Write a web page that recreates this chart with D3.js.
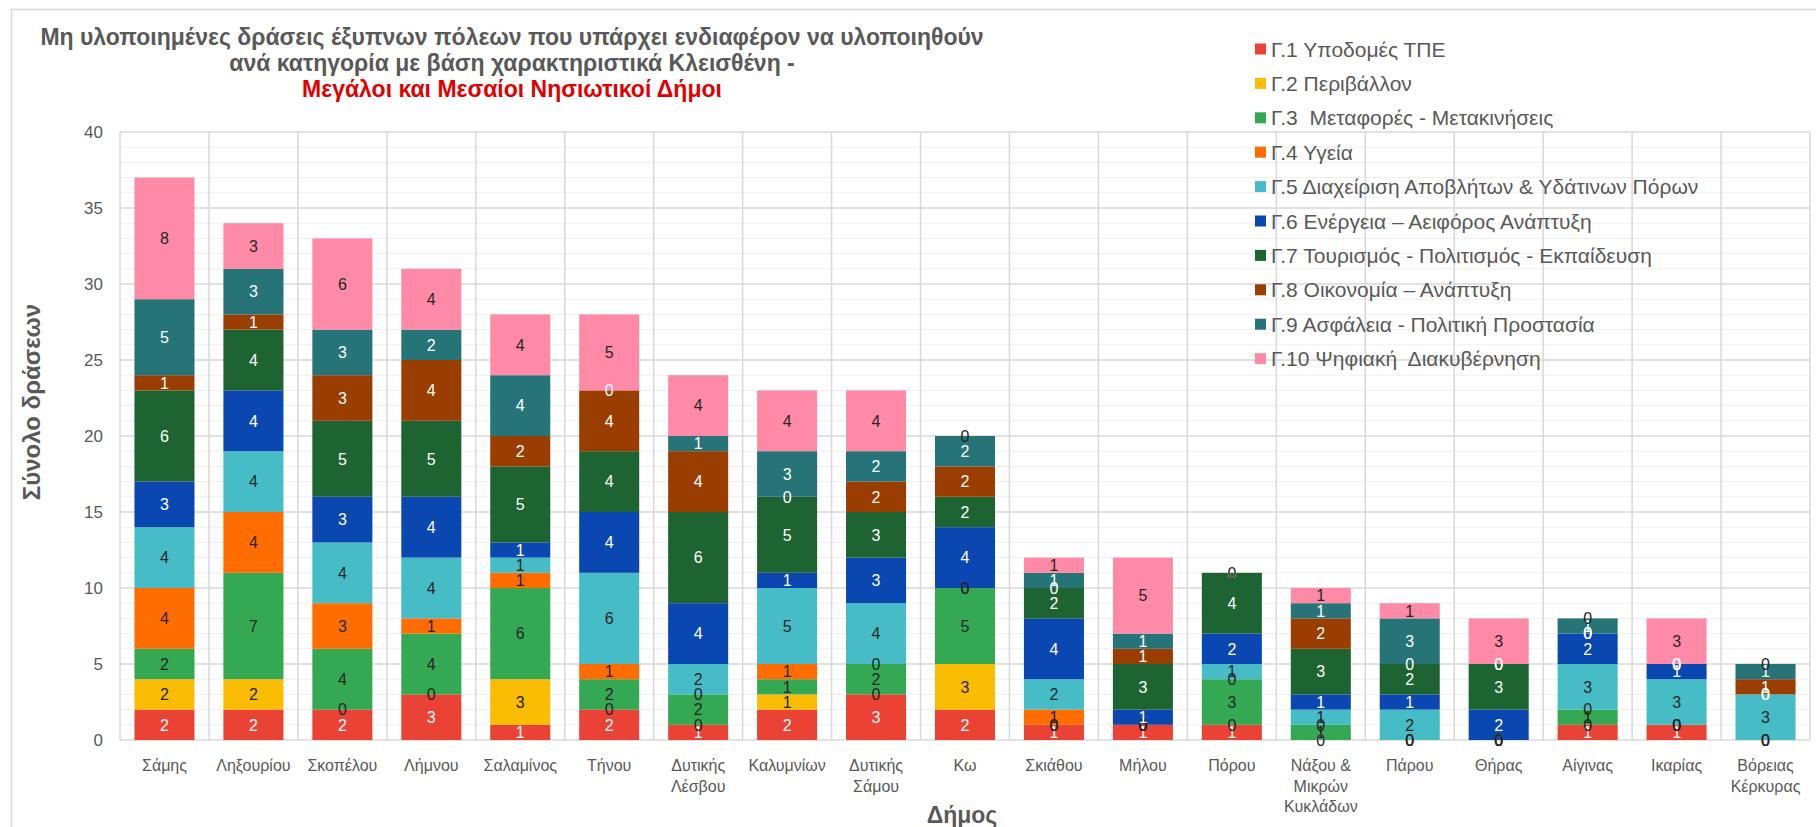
<!DOCTYPE html>
<html lang="el">
<head>
<meta charset="utf-8">
<title>Μη υλοποιημένες δράσεις έξυπνων πόλεων</title>
<script src="https://cdn.jsdelivr.net/npm/d3@7"></script>
<style>
  html, body { margin: 0; padding: 0; background: #ffffff; }
  svg { display: block; font-family: "Liberation Sans", Arial, sans-serif; }
</style>
</head>
<body>
<svg id="chart" width="1816" height="827"></svg>
<script>
// Municipalities (x categories); "\n" marks a line break in the tick label
const municipalities = [
  "Σάμης", "Ληξουρίου", "Σκοπέλου", "Λήμνου", "Σαλαμίνος", "Τήνου",
  "Δυτικής\nΛέσβου", "Καλυμνίων", "Δυτικής\nΣάμου", "Κω", "Σκιάθου",
  "Μήλου", "Πόρου", "Νάξου &\nΜικρών\nΚυκλάδων", "Πάρου", "Θήρας",
  "Αίγινας", "Ικαρίας", "Βόρειας\nΚέρκυρας"
];

// Action categories (stack order, bottom to top)
const categories = [
  "Γ.1 Υποδομές ΤΠΕ",
  "Γ.2 Περιβάλλον",
  "Γ.3  Μεταφορές - Μετακινήσεις",
  "Γ.4 Υγεία",
  "Γ.5 Διαχείριση Αποβλήτων & Υδάτινων Πόρων",
  "Γ.6 Ενέργεια – Αειφόρος Ανάπτυξη",
  "Γ.7 Τουρισμός - Πολιτισμός - Εκπαίδευση",
  "Γ.8 Οικονομία – Ανάπτυξη",
  "Γ.9 Ασφάλεια - Πολιτική Προστασία",
  "Γ.10 Ψηφιακή  Διακυβέρνηση"
];

// Number of actions per category, one value per municipality
const g1  = [2, 2, 2, 3, 1, 2, 1, 2, 3, 2, 1, 1, 1, 0, 0, 0, 1, 1, 0];
const g2  = [2, 2, 0, 0, 3, 0, 0, 1, 0, 3, 0, 0, 0, 0, 0, 0, 0, 0, 0];
const g3  = [2, 7, 4, 4, 6, 2, 2, 1, 2, 5, 0, 0, 3, 1, 0, 0, 1, 0, 0];
const g4  = [4, 4, 3, 1, 1, 1, 0, 1, 0, 0, 1, 0, 0, 0, 0, 0, 0, 0, 0];
const g5  = [4, 4, 4, 4, 1, 6, 2, 5, 4, 0, 2, 0, 1, 1, 2, 0, 3, 3, 3];
const g6  = [3, 4, 3, 4, 1, 4, 4, 1, 3, 4, 4, 1, 2, 1, 1, 2, 2, 1, 0];
const g7  = [6, 4, 5, 5, 5, 4, 6, 5, 3, 2, 2, 3, 4, 3, 2, 3, 0, 0, 0];
const g8  = [1, 1, 3, 4, 2, 4, 4, 0, 2, 2, 0, 1, 0, 2, 0, 0, 0, 0, 1];
const g9  = [5, 3, 3, 2, 4, 0, 1, 3, 2, 2, 1, 1, 0, 1, 3, 0, 1, 0, 1];
const g10 = [8, 3, 6, 4, 4, 5, 4, 4, 4, 0, 1, 5, 0, 1, 1, 3, 0, 3, 0];

const seriesValues = [g1, g2, g3, g4, g5, g6, g7, g8, g9, g10];

const seriesColors = [
  "#ea4335", "#fbbc04", "#34a853", "#ff6d01", "#46bdc6",
  "#0b47b1", "#1e6432", "#993d00", "#267378", "#ff8aa7"
];
const labelColors = [
  "#ffffff", "#262626", "#262626", "#262626", "#262626",
  "#ffffff", "#ffffff", "#ffffff", "#ffffff", "#262626"
];

const yTicks = [0, 5, 10, 15, 20, 25, 30, 35, 40];

const titleLines = [
  "Μη υλοποιημένες δράσεις έξυπνων πόλεων που υπάρχει ενδιαφέρον να υλοποιηθούν",
  "ανά κατηγορία με βάση χαρακτηριστικά Κλεισθένη -",
  "Μεγάλοι και Μεσαίοι Νησιωτικοί Δήμοι"
];

// ---- layout ----
const svg = d3.select("#chart");
const plot = { left: 120, right: 1810, top: 132, bottom: 740 };
const textGray = "#595959";

// Table of rows for the stack layout
const rows = municipalities.map((m, i) => {
  const r = { name: m };
  categories.forEach((c, k) => { r[c] = seriesValues[k][i]; });
  return r;
});

const x = d3.scaleBand()
  .domain(municipalities)
  .range([plot.left, plot.right])
  .paddingInner(0.325)
  .paddingOuter(0.1625);

const y = d3.scaleLinear()
  .domain([0, 40])
  .range([plot.bottom, plot.top]);

const stacked = d3.stack().keys(categories)(rows);

// chart border (left and top edges visible)
svg.append("rect")
  .attr("x", 11.5).attr("y", 9.5)
  .attr("width", 1830).attr("height", 840)
  .attr("fill", "none")
  .attr("stroke", "#d9d9d9")
  .attr("stroke-width", 1.5);

// ---- gridlines ----
const grid = svg.append("g");
grid.selectAll("line.minor")
  .data(d3.range(1, 40).filter(v => v % 5 !== 0))
  .join("line")
  .attr("x1", plot.left).attr("x2", plot.right)
  .attr("y1", d => y(d)).attr("y2", d => y(d))
  .attr("stroke", "#efefef").attr("stroke-width", 1);

grid.selectAll("line.major")
  .data(yTicks)
  .join("line")
  .attr("x1", plot.left).attr("x2", plot.right)
  .attr("y1", d => y(d)).attr("y2", d => y(d))
  .attr("stroke", "#d9d9d9").attr("stroke-width", 1.5);

const step = x.step();
grid.selectAll("line.vert")
  .data(d3.range(municipalities.length + 1))
  .join("line")
  .attr("x1", i => plot.left + i * step).attr("x2", i => plot.left + i * step)
  .attr("y1", plot.top).attr("y2", plot.bottom)
  .attr("stroke", "#d9d9d9").attr("stroke-width", 1.5);

// ---- bars ----
const layers = svg.append("g").selectAll("g")
  .data(stacked)
  .join("g")
  .attr("fill", (d, i) => seriesColors[i]);

layers.selectAll("rect")
  .data(d => d)
  .join("rect")
  .attr("x", d => x(d.data.name))
  .attr("width", x.bandwidth())
  .attr("y", d => y(d[1]))
  .attr("height", d => y(d[0]) - y(d[1]));

// ---- data labels ----
const labelLayers = svg.append("g").selectAll("g")
  .data(stacked)
  .join("g")
  .attr("fill", (d, i) => labelColors[i]);

labelLayers.selectAll("text")
  .data(d => d)
  .join("text")
  .attr("x", d => x(d.data.name) + x.bandwidth() / 2)
  .attr("y", d => (y(d[0]) + y(d[1])) / 2)
  .attr("dy", "0.36em")
  .attr("text-anchor", "middle")
  .attr("font-size", 16)
  .text(d => d[1] - d[0]);

// ---- axes ----
const yAxis = svg.append("g")
  .attr("transform", `translate(${plot.left},0)`)
  .call(d3.axisLeft(y).tickValues(yTicks).tickSize(0).tickPadding(17));
yAxis.select(".domain").remove();
yAxis.selectAll("text")
  .attr("font-size", 17)
  .attr("font-family", "Liberation Sans, Arial, sans-serif")
  .attr("fill", textGray);

const xAxis = svg.append("g")
  .attr("transform", `translate(0,${plot.bottom})`)
  .call(d3.axisBottom(x).tickSize(0).tickFormat(""));
xAxis.select(".domain").remove();
xAxis.selectAll(".tick text").remove();
xAxis.selectAll(".tick").each(function (d) {
  const t = d3.select(this).append("text")
    .attr("y", 31)
    .attr("text-anchor", "middle")
    .attr("font-size", 16)
    .attr("font-family", "Liberation Sans, Arial, sans-serif")
    .attr("fill", textGray);
  d.split("\n").forEach((line, i) => {
    t.append("tspan").attr("x", 0).attr("dy", i === 0 ? 0 : 20.6).text(line);
  });
});

// axis titles
svg.append("text")
  .attr("transform", "translate(40,402) rotate(-90)")
  .attr("text-anchor", "middle")
  .attr("font-size", 24)
  .attr("font-weight", "bold")
  .attr("fill", textGray)
  .text("Σύνολο δράσεων");

svg.append("text")
  .attr("x", 962).attr("y", 823)
  .attr("text-anchor", "middle")
  .attr("font-size", 23)
  .attr("font-weight", "bold")
  .attr("fill", textGray)
  .text("Δήμος");

// ---- title ----
const title = svg.append("text")
  .attr("text-anchor", "middle")
  .attr("font-size", 23)
  .attr("font-weight", "bold");
titleLines.forEach((line, i) => {
  title.append("tspan")
    .attr("x", 512)
    .attr("y", 45 + i * 26)
    .attr("fill", i === 2 ? "#e00000" : textGray)
    .text(line);
});

// ---- legend ----
const legend = svg.append("g").attr("transform", "translate(1255,49)");
const items = legend.selectAll("g")
  .data(categories)
  .join("g")
  .attr("transform", (d, i) => `translate(0,${i * 34.4})`);
items.append("rect")
  .attr("x", 0).attr("y", -5.5)
  .attr("width", 11).attr("height", 11)
  .attr("fill", (d, i) => seriesColors[i]);
items.append("text")
  .attr("x", 16).attr("dy", "0.36em")
  .attr("font-size", 21)
  .attr("fill", textGray)
  .style("white-space", "pre")
  .text(d => d);
</script>
</body>
</html>
